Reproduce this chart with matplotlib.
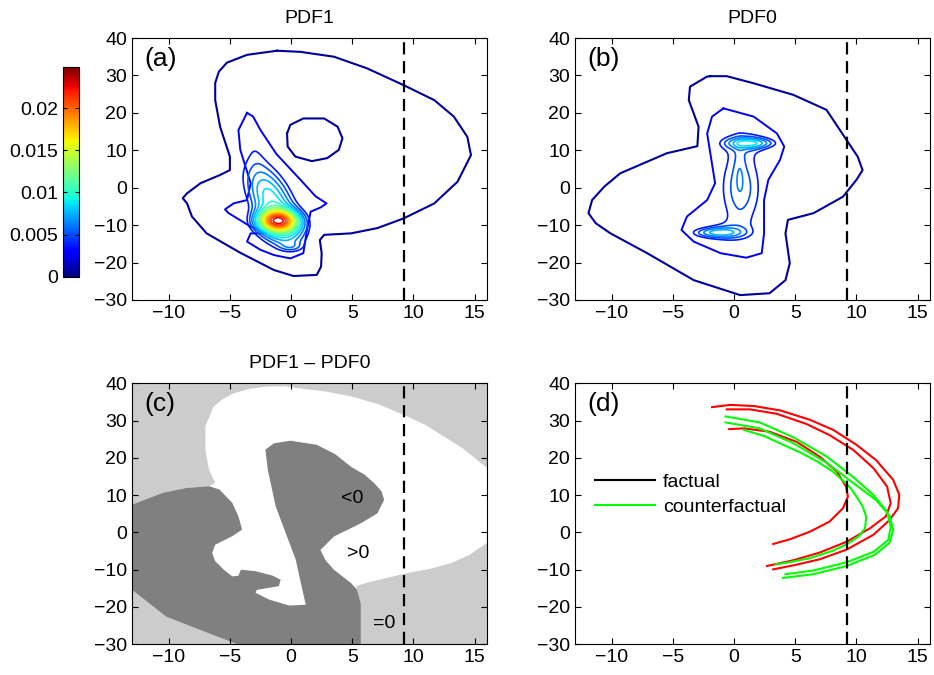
import numpy as np
import matplotlib
matplotlib.use('Agg')
import matplotlib.pyplot as plt
from matplotlib.colors import Normalize
from matplotlib.lines import Line2D

plt.rcParams['font.family'] = ['Liberation Sans', 'DejaVu Sans']
plt.rcParams['font.size'] = 14

# ---- data ----
x_lim = [-13, 16]
y_lim = [-30, 40]
x_ticks = [-10, -5, 0, 5, 10, 15]
y_ticks = [-30, -20, -10, 0, 10, 20, 30, 40]
x_cut = 9.25                     # dashed vertical line
vmax = 0.0249
lvl_step = 0.00125
cb_ticks = [0, 0.005, 0.01, 0.015, 0.02]
cb_labels = ['0', '0.005', '0.01', '0.015', '0.02']

# PDF1: outermost contour, the hole inside it, and the second contour
outer_a_x = [-1.15, 0.76, 3.5, 6.2, 9.2, 11.7, 13.3, 14.4, 14.7, 13.6, 11.7, 9.2, 7.05, 4.9, 2.7,
             2.35, 2.5, 2.45, 2.1, 0.2, -1.4, -4.2, -6.9, -8.1, -8.5, -8.85, -8.5, -7.4, -5.8,
             -5.0, -5.0, -5.8, -6.2, -6.2, -5.9, -5.25, -3.6, -1.15]
outer_a_y = [36.6, 36.3, 35.0, 31.9, 27.4, 23.4, 19.0, 13.6, 8.7, 1.6, -4.2, -8.2, -10.8, -12.2, -12.6,
             -14.0, -17.5, -21.1, -23.3, -23.6, -22.0, -17.3, -12.2, -7.7, -4.2, -2.8, -1.5, 1.2, 3.4,
             4.7, 8.3, 16.3, 23.4, 28.0, 31.0, 33.4, 35.5, 36.6]
hole_a_x = [-0.33, -0.06, 1.0, 2.7, 3.8, 4.2, 3.9, 2.95, 1.7, 0.35, -0.28, -0.33]
hole_a_y = [14.5, 16.8, 18.5, 18.5, 16.3, 13.2, 10.1, 7.9, 7.1, 8.3, 11.0, 14.5]
second_a_x = [-3.6, -3.1, -2.5, -1.2, 0.8, 2.0, 2.9, 2.4, 1.6, 1.3, 1.0, -0.06, -1.4, -2.5, -3.6,
              -3.3, -2.0, -3.3, -5.1, -5.4, -4.7, -3.6, -3.3, -4.15, -4.3, -3.6]
second_a_y = [20.0, 19.0, 15.4, 9.0, 2.0, -2.3, -4.2, -5.3, -6.4, -11.3, -17.5, -18.9, -18.0, -16.6, -14.4,
              -12.2, -12.2, -10.4, -6.8, -5.8, -4.2, -3.3, 1.2, 10.1, 15.4, 20.0]

# PDF0: outermost and second contour
outer_b_x = [-1.95, -0.6, 1.6, 4.85, 7.55, 9.2, 10.1, 10.5, 10.0, 8.9, 6.5, 4.4, 4.2, 4.55, 4.2,
             2.9, 0.5, -3.3, -7.1, -10.1, -11.3, -11.9, -11.6, -10.6, -9.3, -5.5, -3.0, -2.9,
             -3.7, -3.6, -2.2, -1.95]
outer_b_y = [29.8, 29.8, 27.9, 24.8, 20.8, 12.7, 8.3, 4.7, 2.1, -2.4, -6.8, -8.6, -12.2, -20.2, -24.7,
             -28.2, -28.7, -24.7, -17.5, -12.2, -9.5, -6.8, -3.3, 0.3, 3.85, 9.2, 11.1, 16.3,
             23.4, 27.0, 29.7, 29.8]
second_b_x = [-0.87, -1.8, -2.2, -1.55, -2.2, -3.85, -4.3, -3.3, -1.1, 1.0, 2.26, 2.45, 2.45, 2.8,
              3.75, 4.1, 3.5, 1.6, -0.87]
second_b_y = [21.2, 19.0, 14.5, 1.2, -3.3, -7.7, -11.3, -14.4, -17.5, -18.7, -17.5, -12.2, -3.3, 2.1,
              7.4, 11.0, 14.5, 19.0, 21.2]

# inner density bumps (amplitude, centre, spread, correlation)
pdf1_amp = [0.0095, 0.0145, 0.0035, 0.0020, 0.0016]
pdf1_cx = [-1.6, -1.1, -0.8, 0.0, -3.0]
pdf1_cy = [-3.5, -8.8, -12.5, -15.8, 12.0]
pdf1_sx = [1.7, 1.25, 1.6, 0.7, 0.7]
pdf1_sy = [8.0, 2.0, 2.8, 0.9, 4.0]
pdf1_rho = [-0.55, 0.0, 0.0, 0.0, -0.3]

pdf0_amp = [0.0057, 0.0020, 0.0020, 0.0052, 0.0052, 0.0012]
pdf0_cx = [0.55, 1.0, -1.2, 1.45, -1.5, 0.45]
pdf0_cy = [0.0, 12.5, -12.0, 11.9, -12.0, 5.0]
pdf0_sx = [1.55, 2.0, 2.0, 1.5, 1.5, 0.3]
pdf0_sy = [10.0, 2.8, 2.5, 1.05, 1.05, 5.0]
pdf0_rho = [0.0, 0.0, 0.0, 0.0, 0.0, 0.0]

# PDF1 - PDF0 sign regions
nonzero_x = [-13, -10.5, -8.6, -6.7, -6.2, -6.7, -7.0, -7.0, -6.6, -6.35, -5.6, -4.7, -3.4, -2.0, -0.5,
             0.75, 2.8, 4.9, 7.2, 9.2, 11.0, 12.5, 14.0, 15.2, 16, 16, 14.6, 13.1, 11.3, 9.5, 7.8,
             6.2, 5.3, 5.4, 5.7, 5.7, -4.4, -7.4, -10.2, -13]
nonzero_y = [7.45, 10.6, 11.9, 12.4, 13.3, 16.8, 22.1, 28.5, 31.6, 33.7, 35.7, 37.3, 38.5, 39.1, 39.2,
             38.6, 37.8, 36.5, 34.3, 31.5, 28.8, 25.7, 22.6, 19.4, 17.3, -2.8, -6.0, -8.2, -9.8, -10.9,
             -12.2, -13.5, -14.4, -15.4, -19, -30, -30, -26.2, -22.6, -15.4]
neg_x = [-13, -10.5, -8.6, -6.7, -5.85, -4.8, -4.3, -4.0, -4.8, -6.2, -6.45, -6.2, -5.5, -4.8, -4.3,
         -4.1, -2.9, -1.5, -0.85, -1.0, -2.8, -2.9, -1.8, -0.16, 1.2, 0.8, 0.38, -0.44, -1.26, -1.9,
         -2.1, -1.4, -0.06, 2.1, 3.6, 4.9, 6.0, 6.8, 7.4, 7.6, 7.05, 5.7, 3.5, 2.4, 2.8, 3.5, 4.9,
         5.4, 5.7, 5.7, -4.4, -7.4, -10.2, -13]
neg_y = [7.45, 10.6, 11.9, 12.4, 11.5, 7.9, 4.3, 0.75, -1.0, -3.3, -5.5, -7.7, -10, -11.8, -11.6,
         -10, -10.4, -11.6, -12.7, -14.4, -15.4, -16.2, -18.0, -19.6, -19.4, -13.6, -7.3, -0.15, 7.0, 16.8,
         22.2, 23.9, 24.6, 23.5, 21.0, 17.6, 15.5, 13.2, 11.0, 8.7, 5.1, 2.45, -1.1, -4.7, -7.4, -10, -13.6,
         -15.4, -19, -30, -30, -26.2, -22.6, -15.4]

# trajectories in panel (d)
red1_x = [-1.8, -0.3, 1.6, 3.8, 6.2, 8.1, 10.0, 11.6, 13.0, 13.5, 13.4, 12.7, 11.4, 9.2, 7.0, 4.9, 3.2]
red1_y = [33.6, 34.2, 33.9, 32.7, 30.2, 27.5, 23.5, 19.4, 14.1, 10.1, 6.5, 3.3, -0.6, -4.6, -7.2, -8.8, -9.9]
red2_x = [-0.6, 1.3, 3.5, 5.9, 7.8, 9.75, 11.4, 12.5, 12.8, 12.4, 11.1, 9.2, 7.0, 4.8, 2.7]
red2_y = [33.0, 33.0, 31.8, 29.1, 26.1, 22.1, 17.2, 12.3, 7.8, 4.3, 1.1, -2.5, -5.4, -7.5, -9.0]
red3_x = [-0.4, 0.8, 2.9, 5.1, 7.0, 8.4, 9.15, 9.3, 8.9, 7.8, 6.2, 4.6, 3.2]
red3_y = [27.7, 27.9, 27.0, 24.3, 20.3, 16.3, 12.3, 9.6, 6.5, 2.9, 0.2, -1.8, -3.1]
green1_x = [0.8, 2.5, 4.0, 5.5, 6.8, 8.0, 8.7, 9.5, 10.0, 10.5, 10.8, 10.7, 10.2, 9.2, 8.0, 6.2, 4.5, 3.4]
green1_y = [27.5, 25.8, 23.5, 21.3, 19.0, 16.5, 14.5, 12.0, 9.6, 7.0, 4.2, 1.1, -1.0, -3.2, -5.0, -6.9, -8.0, -8.6]
green2_x = [-0.7, 2.1, 4.85, 7.6, 9.75, 11.4, 12.5, 12.8, 12.6, 11.4, 9.2, 6.5, 4.2]
green2_y = [31.1, 29.5, 25.5, 20.3, 14.8, 10.0, 5.5, 1.5, -2.0, -5.2, -8.0, -10.2, -11.2]
green3_x = [-0.7, 2.1, 4.85, 7.6, 9.75, 11.6, 12.7, 13.0, 12.7, 11.5, 9.2, 6.5, 4.0]
green3_y = [29.5, 27.9, 23.9, 18.6, 13.2, 8.7, 4.5, 0.7, -2.8, -6.0, -9.0, -11.2, -12.2]


def mixture(X, Y, amp, cx, cy, sx, sy, rho):
    Z = np.zeros_like(X)
    for a, mx, my, s1, s2, r in zip(amp, cx, cy, sx, sy, rho):
        u = (X - mx) / s1
        v = (Y - my) / s2
        Z += a * np.exp(-0.5 * (u * u - 2 * r * u * v + v * v) / (1 - r * r))
    return Z


def style_axes(ax, label):
    ax.set_xlim(x_lim)
    ax.set_ylim(y_lim)
    ax.set_xticks(x_ticks)
    ax.set_yticks(y_ticks)
    ax.tick_params(direction='in', top=True, right=True, length=4, width=0.8, labelsize=14)
    ax.axvline(x_cut, color='k', lw=1.6, ls=(0, (5.5, 3)), zorder=5)
    ax.text(0.036, 0.92, label, transform=ax.transAxes, fontsize=19, va='center', ha='left', zorder=6)


gx = np.linspace(x_lim[0], x_lim[1], 400)
gy = np.linspace(y_lim[0], y_lim[1], 400)
X, Y = np.meshgrid(gx, gy)
pdf1 = mixture(X, Y, pdf1_amp, pdf1_cx, pdf1_cy, pdf1_sx, pdf1_sy, pdf1_rho)
pdf0 = mixture(X, Y, pdf0_amp, pdf0_cx, pdf0_cy, pdf0_sx, pdf0_sy, pdf0_rho)
levels = np.arange(3, 20) * lvl_step

cmap = plt.get_cmap('jet')
norm = Normalize(0, vmax)
col1 = cmap(norm(lvl_step * 0.5))
col2 = cmap(norm(lvl_step * 2))

fig = plt.figure(figsize=(9.34, 6.75), dpi=100)
ax_a = fig.add_axes([0.1413, 0.5556, 0.380, 0.3881])
ax_b = fig.add_axes([0.6156, 0.5556, 0.380, 0.3881])
ax_c = fig.add_axes([0.1413, 0.0455, 0.380, 0.3867])
ax_d = fig.add_axes([0.6156, 0.0455, 0.380, 0.3867])
cax = fig.add_axes([0.0671, 0.590, 0.0178, 0.311])

# (a) PDF1
ax_a.plot(outer_a_x, outer_a_y, color=col1, lw=1.5)
ax_a.plot(hole_a_x, hole_a_y, color=col1, lw=1.5)
ax_a.plot(second_a_x, second_a_y, color=col2, lw=1.4)
ax_a.contour(X, Y, pdf1, levels=levels, cmap=cmap, norm=norm, linewidths=1.2)
ax_a.set_title('PDF1', fontsize=14, pad=11)
style_axes(ax_a, '(a)')

# (b) PDF0
ax_b.plot(outer_b_x, outer_b_y, color=col1, lw=1.5)
ax_b.plot(second_b_x, second_b_y, color=col2, lw=1.4)
ax_b.contour(X, Y, pdf0, levels=levels, cmap=cmap, norm=norm, linewidths=1.2)
ax_b.set_title('PDF0', fontsize=14, pad=11)
style_axes(ax_b, '(b)')

# colorbar
sm = plt.cm.ScalarMappable(norm=norm, cmap=cmap)
cb = fig.colorbar(sm, cax=cax)
cb.set_ticks(cb_ticks)
cb.set_ticklabels(cb_labels)
cax.yaxis.set_ticks_position('both')
cax.tick_params(direction='in', length=3, labelleft=True, labelright=False, labelsize=14)

# (c) PDF1 - PDF0
ax_c.set_facecolor('#cccccc')
ax_c.fill(nonzero_x, nonzero_y, color='white', lw=0)
ax_c.fill(neg_x, neg_y, color='#808080', lw=0)
ax_c.text(5.0, 9.2, '<0', fontsize=14, ha='center', va='center')
ax_c.text(5.5, -5.6, '>0', fontsize=14, ha='center', va='center')
ax_c.text(7.6, -24.4, '=0', fontsize=14, ha='center', va='center')
ax_c.set_title('PDF1 \u2013 PDF0', fontsize=14, pad=11)
style_axes(ax_c, '(c)')

# (d) trajectories
for xs, ys in [(red1_x, red1_y), (red2_x, red2_y), (red3_x, red3_y)]:
    ax_d.plot(xs, ys, color='red', lw=1.5)
for xs, ys in [(green1_x, green1_y), (green2_x, green2_y), (green3_x, green3_y)]:
    ax_d.plot(xs, ys, color='#00ff00', lw=1.5)
handles = [Line2D([], [], color='k', lw=1.5), Line2D([], [], color='#00ff00', lw=1.5)]
ax_d.legend(handles, ['factual', 'counterfactual'], loc='center left', bbox_to_anchor=(0.056, 0.573),
            frameon=False, fontsize=14, handlelength=3.1, handletextpad=0.4, labelspacing=0.4,
            borderpad=0, borderaxespad=0)
style_axes(ax_d, '(d)')

fig.savefig('out.png', dpi=100)
